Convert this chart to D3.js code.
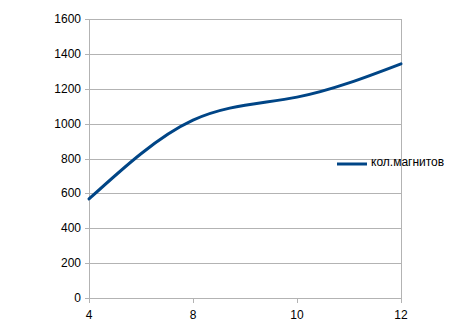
<!DOCTYPE html>
<html>
<head>
<meta charset="utf-8">
<script src="https://cdn.jsdelivr.net/npm/d3@7"></script>
<style>
	body{margin:0;background:#fff;}
	svg{display:block;font-family:"Liberation Sans", Arial, sans-serif;}
</style>
</head>
<body>
<div id="chart"></div>
<script>
// data
const categories = ['4', '8', '10', '12'];
const magnets = [568, 1020, 1152, 1343];
const yTicks = [0, 200, 400, 600, 800, 1000, 1200, 1400, 1600];
const seriesName = 'кол.магнитов';

const w = 463,
	h = 323,
	margin = {top:19, right:62, bottom:25, left:89},
	lineColor = '#004586',
	gridColor = '#b3b3b3';

let svgElem = d3.select('#chart').append('svg')
		.attr('width', w)
		.attr('height', h);

let scaleX = d3.scalePoint()
		.domain(categories)
		.range([margin.left, w - margin.right]);
let scaleY = d3.scaleLinear()
		.domain([0, 1600])
		.range([h - margin.bottom, margin.top]);

// horizontal grid lines
svgElem.append('g')
	.selectAll('line')
	.data(yTicks)
	.join('line')
	.attr('x1', margin.left - 4)
	.attr('x2', w - margin.right)
	.attr('y1', d => Math.round(scaleY(d)) + 0.5)
	.attr('y2', d => Math.round(scaleY(d)) + 0.5)
	.attr('stroke', gridColor);

// y labels
svgElem.append('g')
	.selectAll('text')
	.data(yTicks)
	.join('text')
	.attr('x', margin.left - 8)
	.attr('y', d => scaleY(d))
	.attr('text-anchor', 'end')
	.attr('dominant-baseline', 'central')
	.style('font-size', '12px')
	.text(d => d);

// left axis line and right border
[margin.left, w - margin.right].forEach(function(xx){
	svgElem.append('line')
		.attr('x1', Math.round(xx) + 0.5)
		.attr('x2', Math.round(xx) + 0.5)
		.attr('y1', scaleY(1600))
		.attr('y2', scaleY(0))
		.attr('stroke', gridColor);
});

// x ticks and labels
let xg = svgElem.append('g');
categories.forEach(function(c){
	let xx = Math.round(scaleX(c)) + 0.5;
	xg.append('line')
		.attr('x1', xx).attr('x2', xx)
		.attr('y1', scaleY(0)).attr('y2', scaleY(0) + 5)
		.attr('stroke', gridColor);
	xg.append('text')
		.attr('x', scaleX(c))
		.attr('y', scaleY(0) + 17)
		.attr('text-anchor', 'middle')
		.attr('dominant-baseline', 'central')
		.style('font-size', '12px')
		.text(c);
});

// smoothed series line
let line = d3.line()
	.x((d, i) => scaleX(categories[i]))
	.y(d => scaleY(d))
	.curve(d3.curveNatural);

svgElem.append('path')
	.datum(magnets)
	.attr('d', line)
	.attr('fill', 'none')
	.attr('stroke', lineColor)
	.attr('stroke-width', 3)
	.attr('stroke-linecap', 'round');

// legend
let legendG = svgElem.append('g')
	.attr('transform', 'translate(337,' + 164 + ')');
legendG.append('line')
	.attr('x1', 0).attr('x2', 30)
	.attr('y1', 0).attr('y2', 0)
	.attr('stroke', lineColor)
	.attr('stroke-width', 3);
legendG.append('text')
	.attr('x', 34)
	.attr('y', -2)
	.attr('dominant-baseline', 'central')
	.style('font-size', '12px')
	.text(seriesName);
</script>
</body>
</html>
